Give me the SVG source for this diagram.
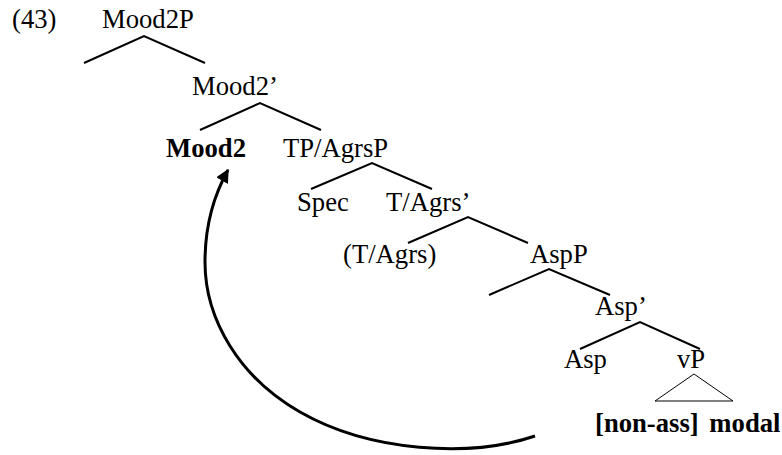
<svg xmlns="http://www.w3.org/2000/svg" width="782" height="455" viewBox="0 0 782 455">
<style>
text{font-family:"Liberation Serif","Times New Roman",serif;font-size:26.67px;fill:#000}
.b{font-weight:bold}
.e{stroke:#000;stroke-width:2;fill:none}
.tri{stroke:#000;stroke-width:1;fill:none}
.mv{stroke:#000;stroke-width:3;fill:none}
</style>
<defs>
<marker id="ah" viewBox="0 0 10 10" refX="9" refY="5" markerWidth="4.5" markerHeight="4.5" markerUnits="strokeWidth" orient="auto">
<path d="M0,0 L10,5 L0,10 z" fill="#000"/>
</marker>
</defs>
<rect width="782" height="455" fill="#fff"/>
<text id="ex" x="12" y="28">(43)</text>
<g id="connectors">
<path class="e" d="M84,63 L144,36 L205,63"/>
<path class="e" d="M200,130 L260,103 L321,130"/>
<path class="e" d="M311,189 L372,163 L432,189"/>
<path class="e" d="M408,243 L468,217 L528,243"/>
<path class="e" d="M489,295 L549,269 L610,295"/>
<path class="e" d="M580,349 L640,322 L700,349"/>
<path class="tri" d="M694,374 L655,401 L733,401 Z"/>
<path class="mv" marker-end="url(#ah)" d="M535,436 C470,458 370,452 300,412 C240,378 205,320 205,262 C205,225 214,195 228,170"/>
</g>
<g id="n-mood2p"><text x="102" y="28">Mood2P</text></g>
<g id="n-mood2bar"><text x="192" y="95">Mood2’</text></g>
<g id="n-mood2"><text class="b" x="166" y="157">Mood2</text></g>
<g id="n-tp"><text x="283" y="157">TP/AgrsP</text></g>
<g id="n-spec"><text x="297" y="211">Spec</text></g>
<g id="n-tbar"><text x="386" y="211">T/Agrs’</text></g>
<g id="n-t"><text x="343" y="263">(T/Agrs)</text></g>
<g id="n-aspp"><text x="530" y="263">AspP</text></g>
<g id="n-aspbar"><text x="595" y="315">Asp’</text></g>
<g id="n-asp"><text x="564" y="368">Asp</text></g>
<g id="n-vp"><text x="677" y="368">vP</text></g>
<g id="n-modal"><text class="b" x="595" y="432" word-spacing="4">[non-ass] modal</text></g>
</svg>
